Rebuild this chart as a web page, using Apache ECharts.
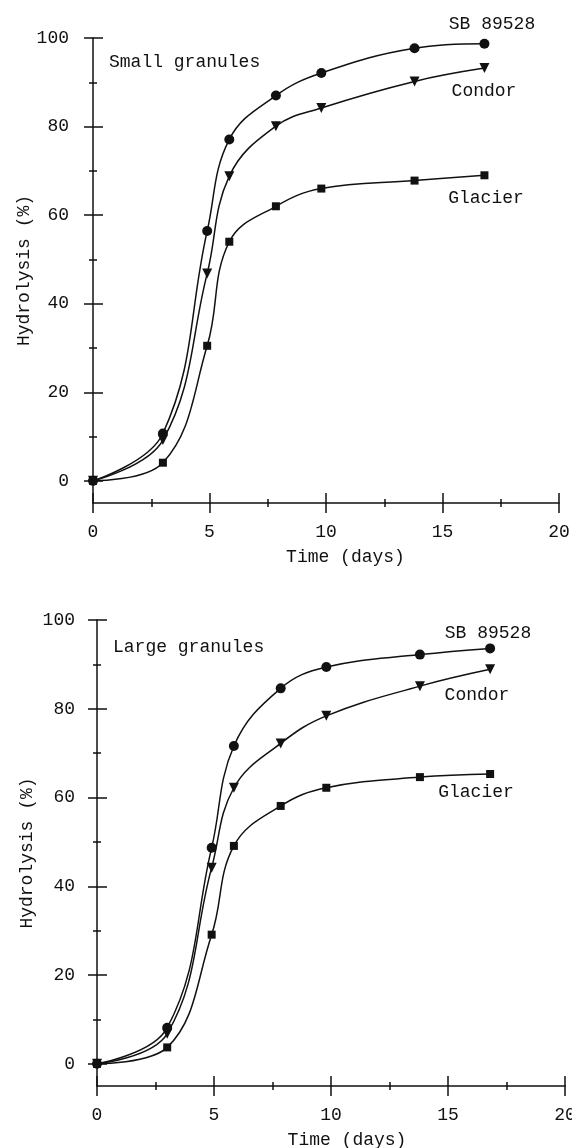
<!DOCTYPE html>
<html>
<head>
<meta charset="utf-8">
<script src="https://cdn.jsdelivr.net/npm/echarts@6/dist/echarts.min.js"></script>
<style>
  html, body { margin: 0; padding: 0; background: #fff; }
  #chart { width: 572px; height: 1148px; }
</style>
</head>
<body>
<div id="chart"></div>
<script>
// sampling days (shared by both panels)
const days = [0, 3, 4.9, 5.85, 7.85, 9.8, 13.8, 16.8];

// small granules
const smallSB = [0, 10.7, 56.4, 77.1, 87.0, 92.1, 97.7, 98.7];
const smallCondor = [0, 9.2, 46.8, 68.8, 80.1, 84.2, 90.2, 93.2];
const smallGlacier = [0, 4.1, 30.5, 54.0, 62.0, 66.0, 67.8, 69.0];

// large granules
const largeSB = [0, 8.1, 48.7, 71.6, 84.6, 89.4, 92.2, 93.6];
const largeCondor = [0, 6.8, 44.2, 62.2, 72.2, 78.4, 85.1, 88.9];
const largeGlacier = [0, 3.7, 29.1, 49.1, 58.1, 62.2, 64.6, 65.3];

const yMajor = [0, 20, 40, 60, 80, 100];
const yMinor = [10, 30, 50, 70, 90];

const INK = "#111";
const FONT = '"Liberation Mono", monospace';
const FS = 18;
const line = { color: INK, width: 1.5 };

const grids = [
  { left: 93, top: 38, width: 466, height: 465, outerBoundsMode: "none" },
  { left: 97, top: 620, width: 468, height: 466, outerBoundsMode: "none" }
];

function xAxes(gi, namePad, labelMargin) {
  const base = {
    type: "value", gridIndex: gi, min: 0, max: 20, interval: 5, position: "bottom",
    splitLine: { show: false },
    minorTick: { show: true, splitNumber: 2, length: 4, lineStyle: line }
  };
  return [
    {
      ...base,
      axisLine: { show: true, onZero: false, lineStyle: line },
      axisTick: { length: 10, lineStyle: line },
      axisLabel: { margin: labelMargin, color: INK, fontFamily: FONT, fontSize: FS },
      name: "Time (days)", nameLocation: "middle", nameGap: 45, nameMoveOverlap: false,
      nameTextStyle: { color: INK, fontFamily: FONT, fontSize: FS, padding: [0, 0, 0, namePad] }
    },
    {
      ...base,
      axisLine: { show: false, onZero: false },
      axisTick: { inside: true, length: 10, lineStyle: line },
      axisLabel: { show: false }
    }
  ];
}

function yAxes(gi, labelMargin, nameGap) {
  const base = {
    type: "value", gridIndex: gi, min: -5, max: 100, position: "left",
    splitLine: { show: false }
  };
  return [
    {
      ...base,
      axisLine: { show: true, onZero: false, lineStyle: line },
      axisTick: { customValues: yMajor, length: 9, lineStyle: line },
      axisLabel: { customValues: yMajor, margin: labelMargin, color: INK, fontFamily: FONT, fontSize: FS },
      name: "Hydrolysis (%)", nameLocation: "middle", nameGap: nameGap, nameMoveOverlap: false,
      nameTextStyle: { color: INK, fontFamily: FONT, fontSize: FS }
    },
    { ...base, axisLine: { show: false, onZero: false }, axisLabel: { show: false },
      axisTick: { customValues: yMajor, inside: true, length: 10, lineStyle: line } },
    { ...base, axisLine: { show: false, onZero: false }, axisLabel: { show: false },
      axisTick: { customValues: yMinor, length: 4, lineStyle: line } },
    { ...base, axisLine: { show: false, onZero: false }, axisLabel: { show: false },
      axisTick: { customValues: yMinor, inside: true, length: 4, lineStyle: line } }
  ];
}

function curve(gi, values, symbol, size, rotate) {
  return {
    type: "line",
    xAxisIndex: gi * 2,
    yAxisIndex: gi * 4,
    data: days.map((d, i) => [d, values[i]]),
    smooth: 0.4,
    symbol: symbol,
    symbolSize: size,
    symbolRotate: rotate || 0,
    showAllSymbol: true,
    lineStyle: line,
    itemStyle: { color: INK },
    z: 5
  };
}

function label(text, x, y, align) {
  return {
    type: "text", x: x, y: y,
    style: { text: text, fill: INK, font: FS + "px " + FONT, textAlign: align || "center", textVerticalAlign: "middle" }
  };
}

const chart = echarts.init(document.getElementById("chart"));
chart.setOption({
  animation: false,
  backgroundColor: "#fff",
  grid: grids,
  xAxis: [...xAxes(0, 39, 20), ...xAxes(1, 32, 20)],
  yAxis: [...yAxes(0, 24, 60), ...yAxes(1, 22, 61)],
  series: [
    curve(0, smallSB, "circle", 10),
    curve(0, smallCondor, "triangle", 10, 180),
    curve(0, smallGlacier, "rect", 8),
    curve(1, largeSB, "circle", 10),
    curve(1, largeCondor, "triangle", 10, 180),
    curve(1, largeGlacier, "rect", 8)
  ],
  graphic: [
    label("Small granules", 109, 62, "left"),
    label("SB 89528", 492, 24),
    label("Condor", 484, 91),
    label("Glacier", 486, 198),
    label("Large granules", 113, 647, "left"),
    label("SB 89528", 488, 633),
    label("Condor", 477, 695),
    label("Glacier", 476, 792)
  ]
});
</script>
</body>
</html>
